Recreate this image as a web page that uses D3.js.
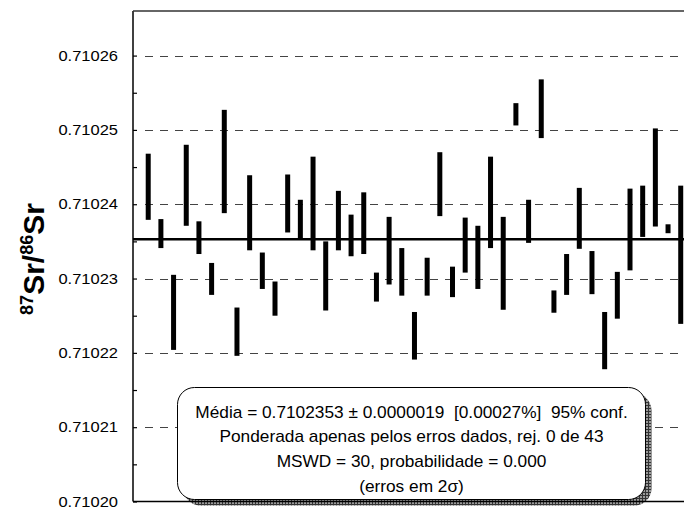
<!DOCTYPE html>
<html>
<head>
<meta charset="utf-8">
<script src="https://cdn.jsdelivr.net/npm/d3@7"></script>
<style>
  body { margin: 0; background: #fff; }
  text { font-family: "Liberation Sans", Arial, sans-serif; white-space: pre; }
</style>
</head>
<body>
<div id="chart"></div>
<script>
// Error bars (2 sigma), analysis number 1..43
const lower = [0.7102379, 0.7102341, 0.7102204, 0.7102371, 0.7102333, 0.7102278, 0.7102388, 0.7102196,
               0.7102338, 0.7102286, 0.7102250, 0.7102362, 0.7102353, 0.7102338, 0.7102257, 0.7102338,
               0.7102330, 0.7102333, 0.7102269, 0.7102292, 0.7102277, 0.7102191, 0.7102277, 0.7102384,
               0.7102275, 0.7102308, 0.7102286, 0.7102341, 0.7102258, 0.7102506, 0.7102348, 0.7102489,
               0.7102254, 0.7102278, 0.7102340, 0.7102279, 0.7102178, 0.7102246, 0.7102311, 0.7102356,
               0.7102370, 0.7102361, 0.7102239];
const upper = [0.7102468, 0.7102380, 0.7102305, 0.7102480, 0.7102377, 0.7102321, 0.7102527, 0.7102261,
               0.7102439, 0.7102335, 0.7102296, 0.7102440, 0.7102406, 0.7102464, 0.7102350, 0.7102418,
               0.7102386, 0.7102416, 0.7102308, 0.7102383, 0.7102341, 0.7102255, 0.7102328, 0.7102470,
               0.7102316, 0.7102382, 0.7102371, 0.7102464, 0.7102383, 0.7102536, 0.7102406, 0.7102568,
               0.7102284, 0.7102333, 0.7102422, 0.7102337, 0.7102255, 0.7102309, 0.7102421, 0.7102425,
               0.7102502, 0.7102373, 0.7102425];
const mean = 0.7102353;
const yTicks = [0.71020, 0.71021, 0.71022, 0.71023, 0.71024, 0.71025, 0.71026];
const infoLines = [
  "Média = 0.7102353 ± 0.0000019  [0.00027%]  95% conf.",
  "Ponderada apenas pelos erros dados, rej. 0 de 43",
  "MSWD = 30, probabilidade = 0.000",
  "(erros em 2σ)"
];

const data = lower.map((lo, i) => ({ n: i + 1, lo: lo, hi: upper[i] }));

const W = 684, H = 508;
const margin = { top: 11, left: 133, bottom: 6.5 };

const svg = d3.select("#chart").append("svg")
  .attr("width", W)
  .attr("height", H);

const x = d3.scaleLinear()
  .domain([-0.2, 44])
  .range([margin.left, 693.4]);

const y = d3.scaleLinear()
  .domain([0.71020, 0.710266])
  .range([H - margin.bottom, margin.top]);

// shadow pattern for the info box
const defs = svg.append("defs");
const pat = defs.append("pattern")
  .attr("id", "grid")
  .attr("width", 3).attr("height", 3)
  .attr("patternUnits", "userSpaceOnUse");
pat.append("rect").attr("width", 3).attr("height", 3).attr("fill", "#9a9a9a");
pat.append("path").attr("d", "M0,0.5H3M0.5,0V3").attr("stroke", "#333").attr("stroke-width", 1);

// dashed gridlines
svg.append("g")
  .selectAll("line")
  .data(yTicks.slice(1))
  .join("line")
  .attr("x1", margin.left + 12)
  .attr("x2", W)
  .attr("y1", d => Math.round(y(d)) + 0.5)
  .attr("y2", d => Math.round(y(d)) + 0.5)
  .attr("stroke", "#444")
  .attr("stroke-width", 1)
  .attr("stroke-dasharray", "8,7");

// y axis with major and minor ticks inside
const yAxis = svg.append("g")
  .attr("transform", `translate(${margin.left},0)`)
  .call(d3.axisRight(y).tickValues(yTicks).tickSize(4).tickFormat(""));
yAxis.select(".domain").remove();
yAxis.selectAll("line").attr("stroke", "#000").attr("stroke-width", 1.2);

const yMinor = svg.append("g")
  .attr("transform", `translate(${margin.left},0)`)
  .call(d3.axisRight(y).tickValues(yTicks.slice(0, -1).map(d => d + 0.000005)).tickSize(4).tickFormat(""));
yMinor.select(".domain").remove();
yMinor.selectAll("line").attr("stroke", "#000").attr("stroke-width", 1.2);

// tick labels (slightly stretched horizontally like the original)
svg.append("g")
  .selectAll("text")
  .data(yTicks)
  .join("text")
  .attr("transform", d => `translate(118,${y(d) + 5}) scale(1.1,1)`)
  .attr("text-anchor", "end")
  .attr("font-size", 15)
  .attr("fill", "#000")
  .text(d => d.toFixed(5));

// frame: left axis, top
svg.append("line")
  .attr("x1", margin.left).attr("x2", margin.left)
  .attr("y1", margin.top).attr("y2", y(0.71020))
  .attr("stroke", "#000").attr("stroke-width", 1.5);
svg.append("line")
  .attr("x1", margin.left).attr("x2", W)
  .attr("y1", margin.top).attr("y2", margin.top)
  .attr("stroke", "#333").attr("stroke-width", 1.5);

// error bars
svg.append("g")
  .selectAll("rect")
  .data(data)
  .join("rect")
  .attr("x", d => x(d.n) - 2.5)
  .attr("width", 5)
  .attr("y", d => y(d.hi))
  .attr("height", d => y(d.lo) - y(d.hi))
  .attr("fill", "#000");

// weighted mean line
svg.append("line")
  .attr("x1", margin.left).attr("x2", W)
  .attr("y1", y(mean)).attr("y2", y(mean))
  .attr("stroke", "#000").attr("stroke-width", 2.5);

// info box with shadow
const box = { x: 177.5, y: 387.5, w: 468, h: 112, r: 17 };
svg.append("rect")
  .attr("x", box.x + 6).attr("y", box.y + 6)
  .attr("width", box.w).attr("height", box.h)
  .attr("rx", box.r)
  .attr("fill", "url(#grid)");

svg.append("line")
  .attr("x1", margin.left).attr("x2", W)
  .attr("y1", y(0.71020)).attr("y2", y(0.71020))
  .attr("stroke", "#000").attr("stroke-width", 1.5);

svg.append("rect")
  .attr("x", box.x).attr("y", box.y)
  .attr("width", box.w).attr("height", box.h)
  .attr("rx", box.r)
  .attr("fill", "#fff")
  .attr("stroke", "#000")
  .attr("stroke-width", 1);

svg.append("g")
  .selectAll("text")
  .data(infoLines)
  .join("text")
  .attr("transform", (d, i) => `translate(${box.x + box.w / 2},${417.5 + i * 24.7}) scale(1.08,1)`)
  .attr("text-anchor", "middle")
  .attr("font-size", 16)
  .attr("fill", "#000")
  .text(d => d);

// y axis title
const title = svg.append("text")
  .attr("transform", "translate(44,259) rotate(-90)")
  .attr("text-anchor", "middle")
  .attr("font-weight", "bold")
  .attr("font-size", 30)
  .attr("fill", "#000");
title.append("tspan").attr("font-size", 18).attr("dy", -11).text("87");
title.append("tspan").attr("dy", 11).text("Sr/");
title.append("tspan").attr("font-size", 18).attr("dy", -11).text("86");
title.append("tspan").attr("dy", 11).text("Sr");
</script>
</body>
</html>
